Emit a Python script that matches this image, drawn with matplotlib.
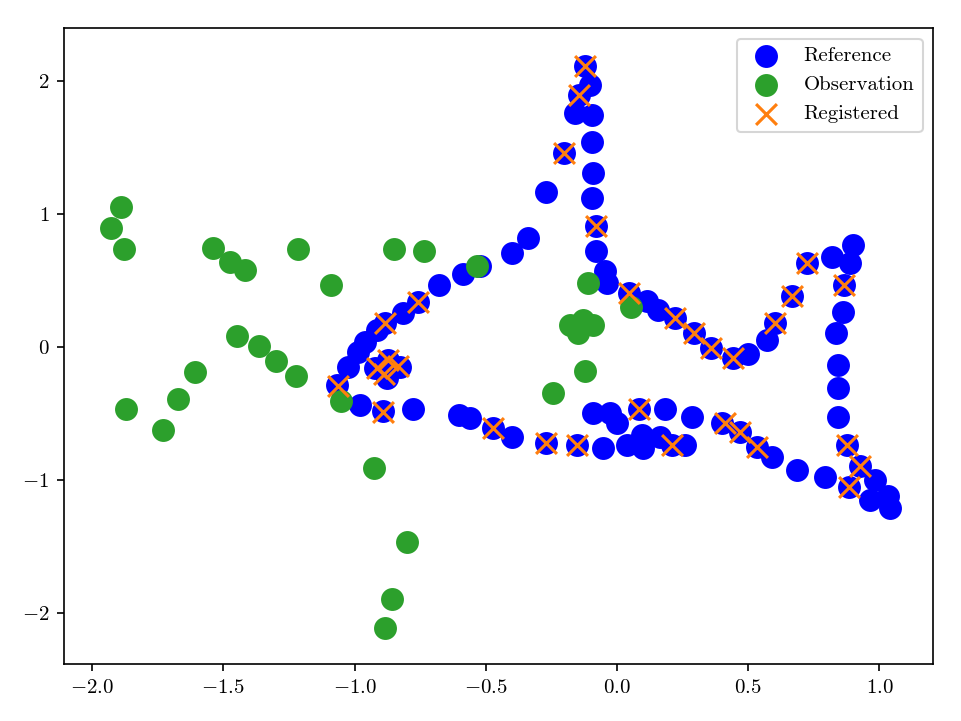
import matplotlib
matplotlib.use("Agg")
import matplotlib.pyplot as plt

# Computer-Modern look without LaTeX
plt.rcParams["font.family"] = "serif"
plt.rcParams["font.serif"] = ["cmr10", "DejaVu Serif"]
plt.rcParams["mathtext.fontset"] = "cm"
plt.rcParams["axes.formatter.use_mathtext"] = True
plt.rcParams["axes.unicode_minus"] = True

# ── reference point set (blue) ──────────────────────────────────────────
ref_x = [-1.067, -1.025, -0.987, -0.960, -0.915, -0.884, -0.816, -0.758, -0.678, -0.587,
         -0.522, -0.400, -0.339, -0.271, -0.202,
         -0.922, -0.873, -0.827, -0.877,
         -0.979, -0.892, -0.777,
         -0.602, -0.560, -0.473, -0.400, -0.271, -0.152, -0.091, -0.053, -0.027, 0.000,
         0.038, 0.084, 0.095, 0.099, 0.164, 0.183, 0.210, 0.259, 0.286, 0.400,
         0.469, 0.534, 0.591, 0.686, 0.793,
         0.877, 0.926, 0.884, 0.983, 1.033, 0.964, 1.040, 0.842, 0.842, 0.842,
         0.835, 0.861, 0.865, 0.888, 0.819, 0.899, 0.724, 0.667, 0.602, 0.572,
         0.499, 0.442, 0.358, 0.293, 0.221, 0.156, 0.114, 0.046, -0.038, -0.046,
         -0.080, -0.080, -0.095, -0.091, -0.095, -0.095, -0.160, -0.145, -0.103, -0.122]
ref_y = [-0.286, -0.150, -0.038, 0.038, 0.128, 0.180, 0.256, 0.338, 0.466, 0.549,
         0.609, 0.707, 0.820, 1.165, 1.459,
         -0.158, -0.098, -0.150, -0.233,
         -0.436, -0.481, -0.466,
         -0.511, -0.534, -0.609, -0.677, -0.722, -0.737, -0.496, -0.759, -0.496, -0.571,
         -0.737, -0.466, -0.662, -0.759, -0.677, -0.466, -0.737, -0.737, -0.526, -0.571,
         -0.639, -0.752, -0.827, -0.925, -0.977,
         -0.737, -0.895, -1.053, -1.000, -1.120, -1.150, -1.211, -0.526, -0.308, -0.135,
         0.105, 0.263, 0.466, 0.632, 0.677, 0.767, 0.632, 0.383, 0.180, 0.053,
         -0.053, -0.083, -0.008, 0.105, 0.218, 0.278, 0.346, 0.406, 0.481, 0.571,
         0.722, 0.910, 1.120, 1.308, 1.541, 1.744, 1.759, 1.895, 1.970, 2.113]

# ── observed point set (green) ──────────────────────────────────────────
obs_x = [-1.890, -1.928, -1.879, -1.540, -1.475, -1.418, -1.216, -1.090, -1.448, -1.364,
         -1.300, -1.223, -1.608, -1.673, -1.730, -1.871, -1.052, -0.926, -0.800, -0.857,
         -0.884, -0.850, -0.736, -0.534, -0.244, -0.122, -0.111, 0.053, -0.179, -0.130,
         -0.091, -0.149]
obs_y = [1.053, 0.895, 0.737, 0.744, 0.639, 0.579, 0.737, 0.466, 0.083, 0.008,
         -0.105, -0.218, -0.188, -0.391, -0.624, -0.466, -0.406, -0.910, -1.466, -1.895,
         -2.113, 0.737, 0.722, 0.609, -0.346, -0.180, 0.481, 0.301, 0.165, 0.203,
         0.165, 0.105]

# ── registered observation (orange crosses) ─────────────────────────────
reg_x = [-0.122, -0.145, -0.202, -0.080, 0.046, 0.221, 0.293, 0.358, 0.442, 0.602,
         0.667, 0.724, 0.865, 0.877, 0.926, 0.884, 0.412, 0.469, 0.534, 0.210,
         0.084, -0.152, -0.271, -0.473, -0.892, -1.063, -0.884, -0.758, -0.915, -0.873,
         -0.888, -0.835]
reg_y = [2.113, 1.895, 1.459, 0.910, 0.406, 0.218, 0.105, -0.008, -0.083, 0.180,
         0.383, 0.632, 0.466, -0.737, -0.895, -1.053, -0.571, -0.639, -0.752, -0.737,
         -0.466, -0.737, -0.722, -0.609, -0.489, -0.293, 0.180, 0.338, -0.158, -0.098,
         -0.203, -0.143]

fig = plt.figure(figsize=(961 / 150, 721 / 150), dpi=150)
ax = fig.add_subplot(111)
fig.subplots_adjust(left=0.0666, right=0.9709, bottom=0.079, top=0.961)

ax.scatter(ref_x, ref_y, s=100, color="blue", label="Reference")
ax.scatter(obs_x, obs_y, s=100, color="tab:green", label="Observation")
ax.scatter(reg_x, reg_y, s=100, marker="x", color="tab:orange", label="Registered")

ax.set_xlim(-2.107, 1.204)
ax.set_ylim(-2.383, 2.398)
ax.legend(loc="upper right")

fig.savefig("out.png", dpi=150)
